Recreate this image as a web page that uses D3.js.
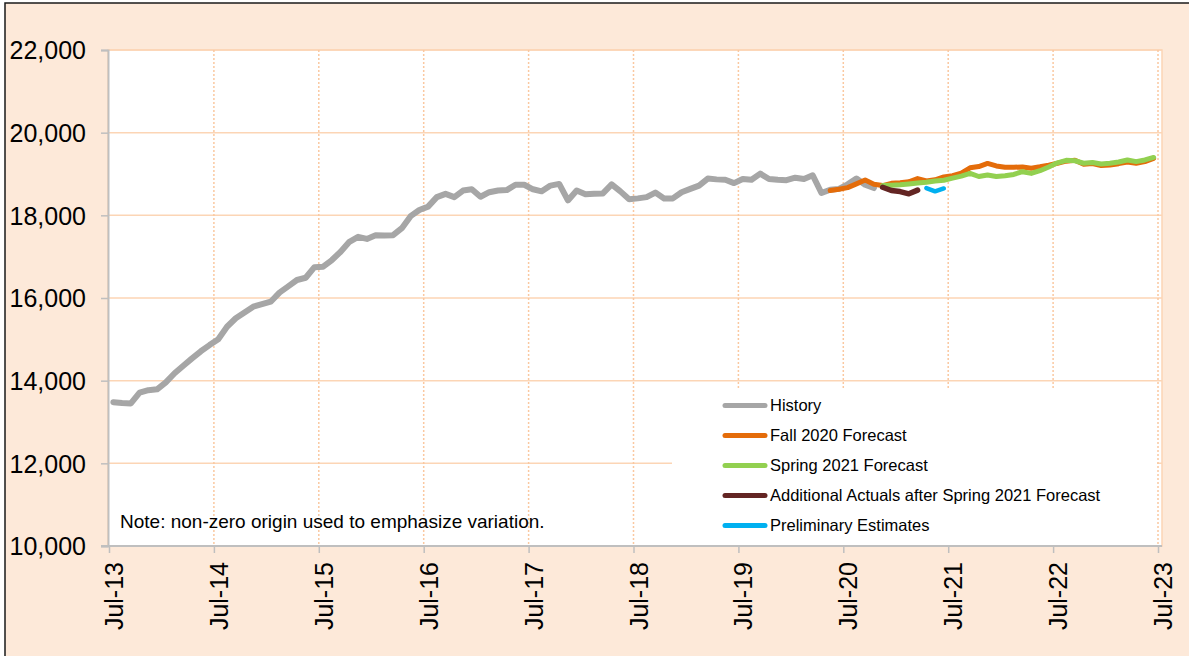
<!DOCTYPE html>
<html>
<head>
<meta charset="utf-8">
<script src="https://cdn.jsdelivr.net/npm/d3@7"></script>
<style>
  html, body { margin: 0; padding: 0; background: #ffffff; }
  svg { display: block; }
  text { font-family: "Liberation Sans", Arial, sans-serif; fill: #000; }
</style>
</head>
<body>
<svg id="chart" width="1189" height="656"></svg>
<script>
// ---------- data ----------
const tickLabels = ["Jul-13","Jul-14","Jul-15","Jul-16","Jul-17","Jul-18","Jul-19","Jul-20","Jul-21","Jul-22","Jul-23"];
const yTicks = [10000, 12000, 14000, 16000, 18000, 20000, 22000];
const monthCount = 120; // Jul-13 .. Jun-23, monthly categories

// History: monthly from Jul-13 (index 0)
const historyStart = 0;
const history = [
  13480,13460,13450,13710,13770,13790,13960,14180,14360,14540,
  14710,14860,15000,15305,15510,15650,15790,15850,15910,16130,
  16280,16435,16490,16745,16758,16919,17120,17360,17480,17430,
  17520,17510,17520,17690,17980,18130,18210,18440,18520,18440,
  18600,18630,18450,18560,18600,18610,18740,18740,18630,18580,
  18720,18760,18360,18600,18510,18520,18530,18750,18580,18390,
  18410,18440,18550,18410,18410,18560,18640,18720,18890,18870,
  18860,18780,18880,18860,19010,18880,18860,18850,18910,18880,
  18970,18540,18620,18640,18750,18890,18740,18660
];
// Fall 2020 Forecast: from May-20 (index 82)
const fallStart = 82;
const fall2020 = [
  18600,18630,18670,18760,18855,18750,18720,18775,18790,18810,
  18890,18830,18860,18930,18960,19020,19150,19180,19255,19195,
  19165,19165,19170,19140,19175,19215,19260,19310,19335,19235,
  19255,19205,19215,19250,19290,19260,19300,19380
];
// Spring 2021 Forecast: from Nov-20 (index 88)
const springStart = 88;
const spring2021 = [
  18720,18730,18740,18760,18780,18800,18830,18850,18900,18950,
  19016,18940,18975,18940,18960,18990,19055,19015,19080,19170,
  19270,19330,19320,19260,19280,19240,19260,19290,19340,19300,
  19340,19400
];
// Additional Actuals after Spring 2021 Forecast: from Nov-20 (index 88)
const actualsStart = 88;
const actuals = [18680,18600,18575,18520,18610];
// Preliminary Estimates: from Apr-21 (index 93)
const prelimStart = 93;
const prelim = [18660,18580,18650];

const seriesNames = ["History","Fall 2020 Forecast","Spring 2021 Forecast","Additional Actuals after Spring 2021 Forecast","Preliminary Estimates"];
const seriesColors = ["#A6A6A6","#E46C0A","#92D050","#632523","#00B0F0"];
const noteText = "Note: non-zero origin used to emphasize variation.";

// ---------- layout ----------
const svg = d3.select("#chart");
const W = 1189, H = 656;
const plot = {left: 108, right: 1162, top: 50, bottom: 546};

const x = d3.scaleLinear().domain([0, monthCount]).range([109, 1158]);
const y = d3.scaleLinear().domain([10000, 22000]).range([plot.bottom, plot.top]);

// background + outer border
svg.append("rect").attr("x", 5).attr("y", 3).attr("width", W + 10).attr("height", H + 10)
  .attr("fill", "#FDE9D9").attr("stroke", "#1a1a1a").attr("stroke-width", 1.5);

// plot area
svg.append("rect").attr("x", plot.left).attr("y", plot.top)
  .attr("width", plot.right - plot.left).attr("height", plot.bottom - plot.top)
  .attr("fill", "#ffffff").attr("stroke", "#FCD5B5").attr("stroke-width", 1.5);

// horizontal gridlines
svg.append("g").selectAll("line").data(yTicks.filter(d => d > 10000)).join("line")
  .attr("x1", plot.left).attr("x2", plot.right)
  .attr("y1", d => y(d)).attr("y2", d => y(d))
  .attr("stroke", "#FCD5B5").attr("stroke-width", 1.5);

// vertical dotted gridlines
const tickIdx = tickLabels.map((d, i) => i * 12);
svg.append("g").selectAll("line").data(tickIdx.slice(1)).join("line")
  .attr("x1", d => x(d)).attr("x2", d => x(d))
  .attr("y1", plot.top).attr("y2", plot.bottom)
  .attr("stroke", "#FAC8A0").attr("stroke-width", 1.5).attr("stroke-dasharray", "2,2");

// legend box (white fill hides gridlines)
const legend = {x: 672, y: 388, w: 1157 - 672, h: 544 - 388};
svg.append("rect").attr("x", legend.x).attr("y", legend.y).attr("width", legend.w).attr("height", legend.h)
  .attr("fill", "#ffffff");

// axes
const yAxis = d3.axisLeft(y).tickValues(yTicks).tickFormat(d3.format(",")).tickSize(7).tickPadding(16);
const gy = svg.append("g").attr("transform", `translate(${plot.left},0)`).call(yAxis);
gy.select(".domain").attr("stroke", "#BFBFBF").attr("stroke-width", 2);
gy.selectAll(".tick line").attr("stroke", "#BFBFBF").attr("stroke-width", 1.5);
gy.selectAll(".tick text").attr("font-size", "25px").attr("font-family", "Liberation Sans, Arial, sans-serif")
  .attr("fill", "#000").attr("x", -22).attr("dy", "0.35em");

const xAxis = d3.axisBottom(x).tickValues(tickIdx).tickFormat((d, i) => tickLabels[i]).tickSize(7).tickSizeOuter(0);
const gx = svg.append("g").attr("transform", `translate(0,${plot.bottom})`).call(xAxis);
gx.select(".domain").attr("stroke", "#BFBFBF").attr("stroke-width", 2).attr("d", `M${plot.left - 7},0H${plot.right}`);
gx.selectAll(".tick line").attr("stroke", "#BFBFBF").attr("stroke-width", 1.5);
gx.selectAll(".tick text")
  .attr("font-size", "25px").attr("font-family", "Liberation Sans, Arial, sans-serif").attr("fill", "#000")
  .attr("text-anchor", "end")
  .attr("transform", "translate(13.5,16) rotate(-90)")
  .attr("x", 0).attr("y", 0).attr("dy", 0);

// lines
const line = d3.line().x(d => x(d.i + 0.5)).y(d => y(d.v)).curve(d3.curveLinear);
function toPts(start, arr) { return arr.map((v, k) => ({i: start + k, v})); }
const allSeries = [
  {pts: toPts(historyStart, history), w: 6},
  {pts: toPts(fallStart, fall2020), w: 5},
  {pts: toPts(springStart, spring2021), w: 5},
  {pts: toPts(actualsStart, actuals), w: 5.5},
  {pts: toPts(prelimStart, prelim), w: 4.5}
];
svg.append("g").selectAll("path").data(allSeries).join("path")
  .attr("d", d => line(d.pts))
  .attr("fill", "none")
  .attr("stroke", (d, i) => seriesColors[i])
  .attr("stroke-width", d => d.w)
  .attr("stroke-linejoin", "round")
  .attr("stroke-linecap", "round");

// legend entries
const lg = svg.append("g");
seriesNames.forEach((name, i) => {
  const cy = 405.5 + i * 30;
  lg.append("line").attr("x1", 725).attr("x2", 765).attr("y1", cy).attr("y2", cy)
    .attr("stroke", seriesColors[i]).attr("stroke-width", 5).attr("stroke-linecap", "round");
  lg.append("text").attr("x", 770).attr("y", cy).attr("dy", "0.35em")
    .attr("font-size", "16.5px").text(name);
});

// note
svg.append("text").attr("x", 120).attr("y", 521).attr("dy", "0.35em")
  .attr("font-size", "19px").text(noteText);
</script>
</body>
</html>
